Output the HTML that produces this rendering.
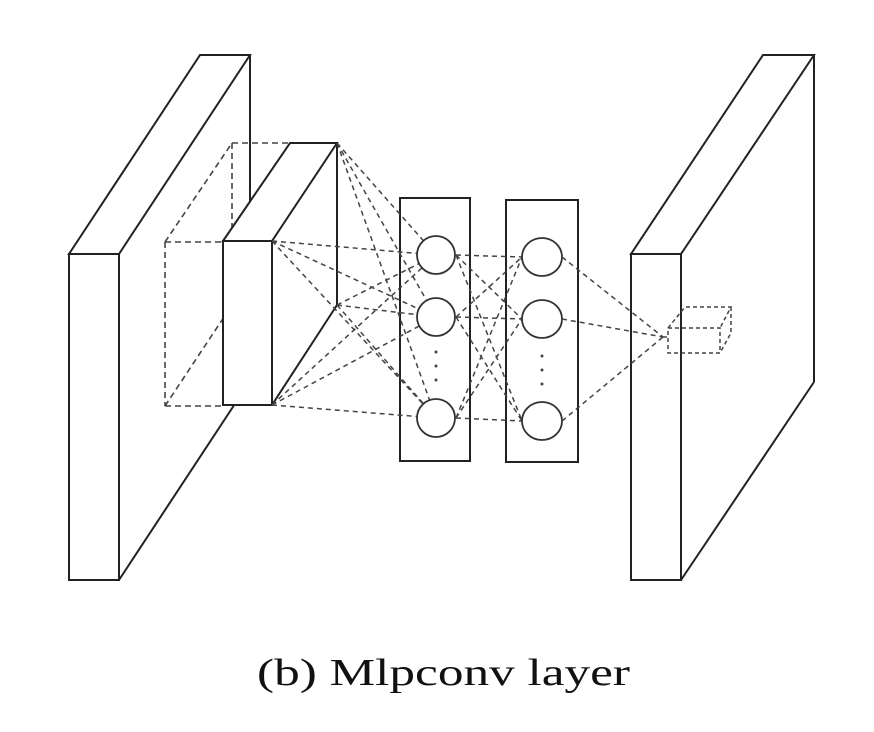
<!DOCTYPE html>
<html><head><meta charset="utf-8"><style>html,body{margin:0;padding:0;background:#fff}svg{display:block}</style></head>
<body>
<svg width="874" height="732" viewBox="0 0 874 732" xmlns="http://www.w3.org/2000/svg">
<g fill="none" stroke="#222" stroke-width="2">
<polygon points="69,254 200,55 250,55 119,254" fill="#fff"/>
<line x1="250" y1="55" x2="250" y2="381"/>
<line x1="119" y1="580" x2="250" y2="381"/>
<rect x="69" y="254" width="50" height="326" fill="#fff"/>
</g>
<g fill="none" stroke="#444" stroke-width="1.6" stroke-dasharray="6,4">
<line x1="165" y1="242" x2="223" y2="242"/>
<line x1="165" y1="406" x2="223" y2="406"/>
<line x1="165" y1="242" x2="165" y2="406"/>
<line x1="165" y1="242" x2="232" y2="143"/>
<line x1="232" y1="143" x2="290" y2="143"/>
<line x1="232" y1="143" x2="232" y2="242"/>
<line x1="165" y1="406" x2="232" y2="305"/>
</g>
<g fill="none" stroke="#222" stroke-width="2">
<polygon points="223,241 290,143 337,143 272,241" fill="#fff"/>
<line x1="337" y1="143" x2="337" y2="305"/>
<line x1="272" y1="405" x2="337" y2="305"/>
<line x1="223" y1="405" x2="232" y2="392"/>
<rect x="223" y="241" width="49" height="164" fill="#fff"/>
<rect x="400" y="198" width="70" height="263"/>
<rect x="506" y="200" width="72" height="262"/>
</g>
<g fill="none" stroke="#444" stroke-width="1.5" stroke-dasharray="5,4">
<path d="M272,241 L436,255 M272,241 L436,317 M272,241 L436,418
M337,143 L436,255 M337,143 L436,317 M337,143 L436,418
M337,305 L436,255 M337,305 L436,317 M337,305 L436,418
M272,405 L436,255 M272,405 L436,317 M272,405 L436,418"/>
<path d="M456,255 L522,257 M456,255 L522,319 M456,255 L522,421
M456,317 L522,257 M456,317 L522,319 M456,317 L522,421
M456,418 L522,257 M456,418 L522,319 M456,418 L522,421"/>
</g>
<g fill="#fff" stroke="#333" stroke-width="1.8">
<ellipse cx="436" cy="255" rx="19" ry="19"/>
<ellipse cx="436" cy="317" rx="19" ry="19"/>
<ellipse cx="436" cy="418" rx="19" ry="19"/>
<ellipse cx="542" cy="257" rx="20" ry="19"/>
<ellipse cx="542" cy="319" rx="20" ry="19"/>
<ellipse cx="542" cy="421" rx="20" ry="19"/>
</g>
<g fill="#444">
<circle cx="436" cy="352" r="1.5"/><circle cx="436" cy="366" r="1.5"/><circle cx="436" cy="380" r="1.5"/>
<circle cx="542" cy="356" r="1.5"/><circle cx="542" cy="370" r="1.5"/><circle cx="542" cy="384" r="1.5"/>
</g>
<g fill="none" stroke="#222" stroke-width="2">
<polygon points="631,254 763,55 814,55 681,254" fill="#fff"/>
<line x1="814" y1="55" x2="814" y2="382"/>
<line x1="681" y1="580" x2="814" y2="382"/>
<rect x="631" y="254" width="50" height="326" fill="#fff"/>
</g>
<g fill="none" stroke="#444" stroke-width="1.5" stroke-dasharray="5,4">
<path d="M562,257 L663,337 M562,319 L663,337 M562,421 L663,337"/>
</g>
<g fill="none" stroke="#444" stroke-width="1.5" stroke-dasharray="4,3">
<rect x="668" y="328" width="52" height="25"/>
<path d="M668,328 L685,307 L731,307 L720,328 M731,307 L731,333 L720,353"/>
<line x1="663" y1="337" x2="668" y2="337"/>
</g>
<text x="257" y="685" font-family="'Liberation Serif', serif" font-size="38" fill="#111" textLength="373" lengthAdjust="spacingAndGlyphs">(b) Mlpconv layer</text>
</svg>
</body></html>
